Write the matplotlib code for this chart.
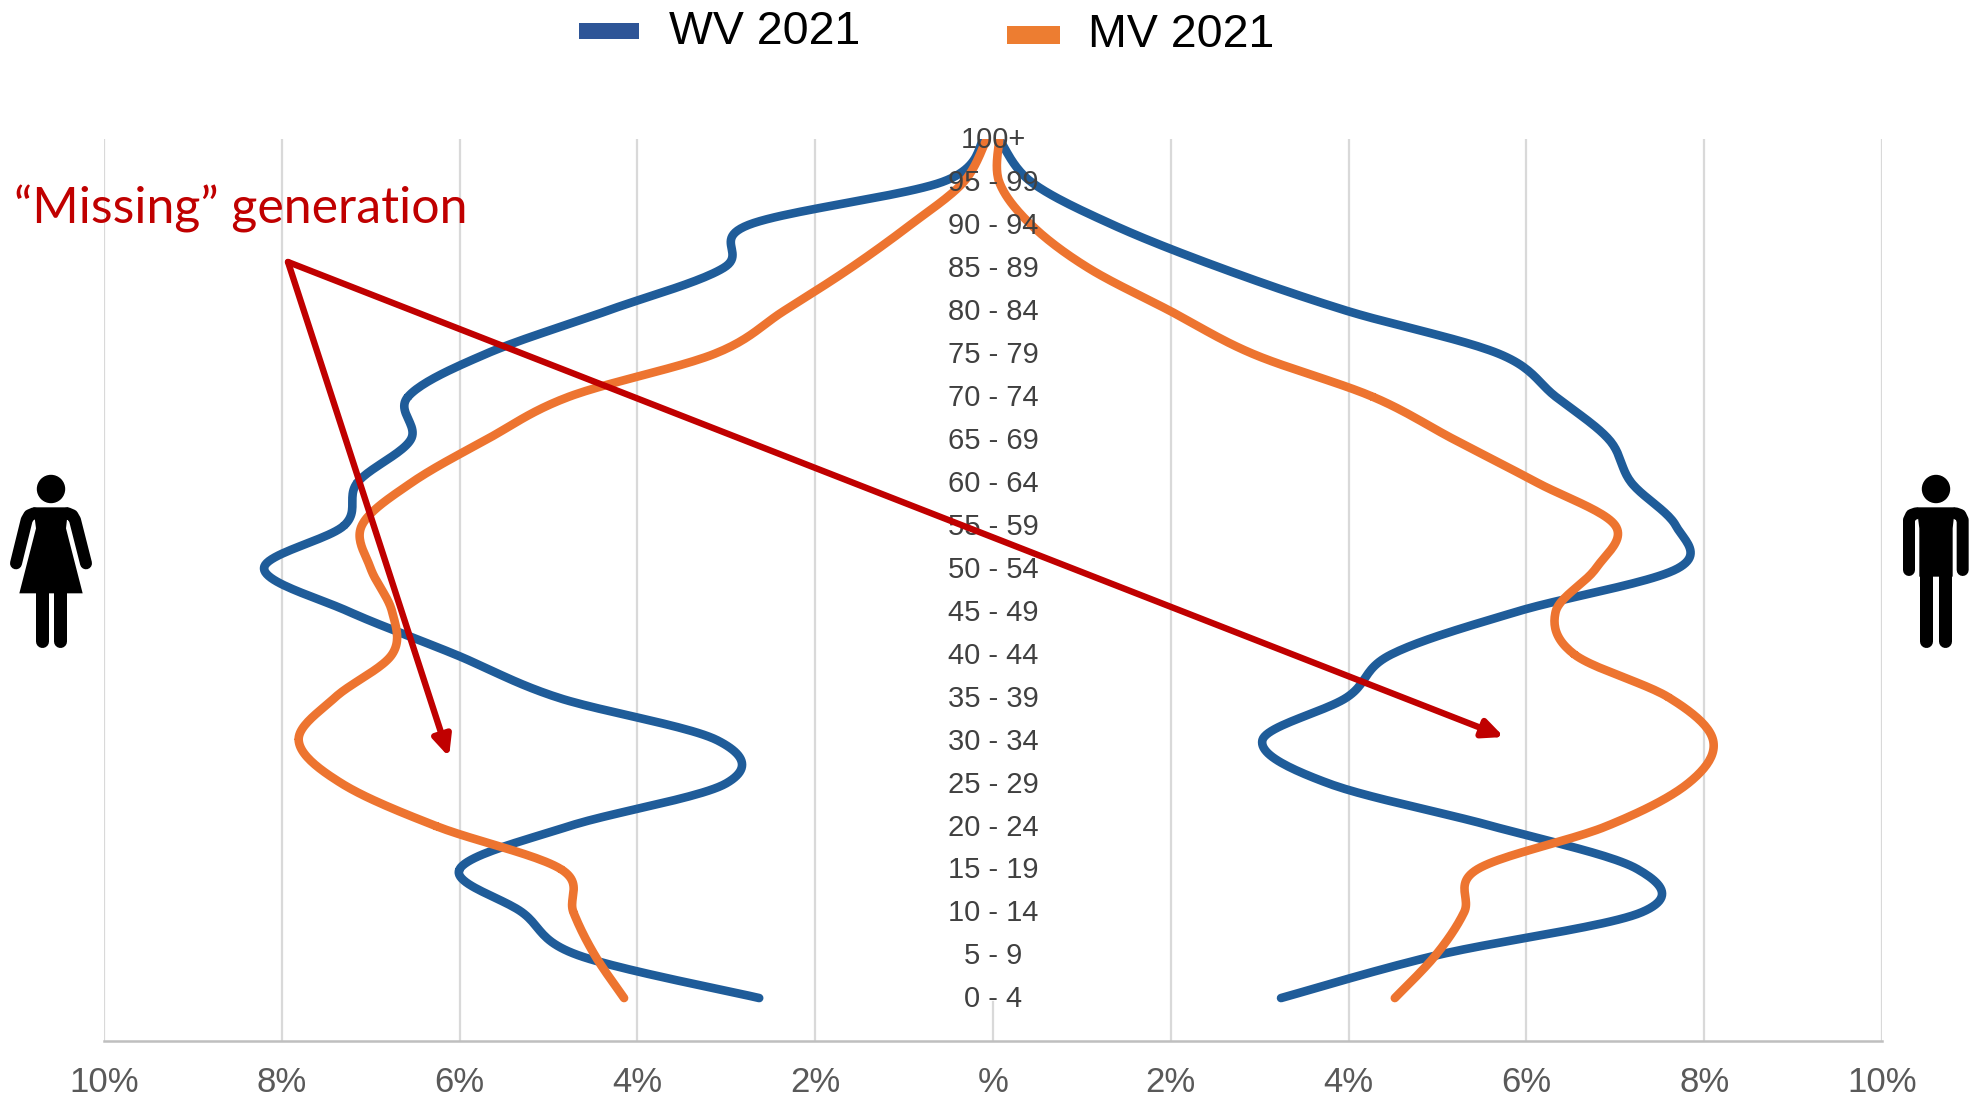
import matplotlib
matplotlib.use("Agg")
import numpy as np
import matplotlib.pyplot as plt
from matplotlib.patches import Circle, Polygon, Rectangle

BLUE = "#1F5C99"
ORANGE = "#ED7430"
RED = "#C00000"

plt.rcParams["font.family"] = ["Liberation Sans", "DejaVu Sans"]

ages = ["0 - 4", "5 - 9", "10 - 14", "15 - 19", "20 - 24", "25 - 29", "30 - 34",
        "35 - 39", "40 - 44", "45 - 49", "50 - 54", "55 - 59", "60 - 64", "65 - 69",
        "70 - 74", "75 - 79", "80 - 84", "85 - 89", "90 - 94", "95 - 99", "100+"]

women_wv = [2.63, 4.67, 5.30, 6.00, 4.77, 3.00, 3.10, 4.90, 6.05, 7.25, 8.20,
            7.30, 7.15, 6.55, 6.58, 5.70, 4.34, 3.03, 2.75, 0.57, 0.10]
women_mv = [4.15, 4.48, 4.72, 4.86, 6.26, 7.33, 7.81, 7.40, 6.76, 6.76, 7.00,
            7.10, 6.54, 5.70, 4.77, 3.13, 2.35, 1.60, 0.93, 0.33, 0.07]
men_wv = [3.24, 5.00, 7.30, 7.25, 5.62, 3.77, 3.03, 3.98, 4.48, 5.90, 7.70,
          7.68, 7.18, 6.93, 6.33, 5.69, 3.98, 2.56, 1.35, 0.43, 0.07]
men_mv = [4.52, 4.98, 5.30, 5.45, 6.90, 7.82, 8.10, 7.60, 6.54, 6.33, 6.78,
          7.00, 6.12, 5.19, 4.27, 2.92, 1.99, 1.07, 0.43, 0.07, 0.07]

x_ticks = [-10, -8, -6, -4, -2, 0, 2, 4, 6, 8, 10]
x_labels = ["10%", "8%", "6%", "4%", "2%", "%", "2%", "4%", "6%", "8%", "10%"]


def smooth(xs, ys, n=24):
    # same idea as the "smoothed line" option in a spreadsheet: catmull-rom
    xs = np.array([xs[0]] + list(xs) + [xs[-1]], dtype=float)
    ys = np.array([ys[0]] + list(ys) + [ys[-1]], dtype=float)
    out_x, out_y = [], []
    for i in range(1, len(xs) - 2):
        t = np.linspace(0, 1, n)
        for arr, out in ((xs, out_x), (ys, out_y)):
            p0, p1, p2, p3 = arr[i - 1], arr[i], arr[i + 1], arr[i + 2]
            out.extend(0.5 * (2 * p1 + (p2 - p0) * t + (2 * p0 - 5 * p1 + 4 * p2 - p3) * t ** 2
                              + (3 * p1 - p0 - 3 * p2 + p3) * t ** 3))
    return out_x, out_y


W, H = 1983, 1099
fig = plt.figure(figsize=(W / 100, H / 100), dpi=100, facecolor="white")
ax = fig.add_axes([104 / W, 1 - 1041 / H, 1778 / W, 902 / H])
ypos = np.arange(len(ages))

for vals, color, sign in ((women_wv, BLUE, -1), (men_wv, BLUE, 1),
                          (women_mv, ORANGE, -1), (men_mv, ORANGE, 1)):
    sx, sy = smooth(sign * np.array(vals), ypos)
    ax.plot(sx, sy, color=color, lw=6.2, solid_capstyle="round", zorder=3)

ax.set_xlim(-10, 10)
ax.set_ylim(-1, 20)
ax.set_xticks(x_ticks)
ax.set_xticklabels(x_labels, fontsize=25, color="#595959")
ax.set_yticks([])
ax.tick_params(axis="x", length=0, pad=18)
for x in x_ticks:
    if x != 0:
        ax.axvline(x, color="#D9D9D9", lw=1.6, zorder=1)
# the centre line only shows below the lowest age group
ax.plot([0, 0], [-1, -0.1], color="#D9D9D9", lw=1.6, zorder=1)
for side in ("top", "left", "right"):
    ax.spines[side].set_visible(False)
ax.spines["bottom"].set_color("#BFBFBF")
ax.spines["bottom"].set_linewidth(1.8)

for y, label in zip(ypos, ages):
    ax.text(0, y - 0.03, label, ha="center", va="center", fontsize=21, color="#404040", zorder=4)

# everything below is placed in pixels of the picture
over = fig.add_axes([0, 0, 1, 1], facecolor="none")
over.set_xlim(0, W)
over.set_ylim(H, 0)
over.axis("off")

over.text(14, 209, "\u201cMissing\u201d generation", fontsize=36, color=RED, family="Lato",
          ha="left", va="center")
for end in ((449, 757), (1504, 737)):
    over.annotate("", xy=end, xytext=(288, 262), zorder=5,
                  arrowprops=dict(arrowstyle="-|>,head_width=0.55,head_length=1.2", color=RED,
                                  lw=4.6, shrinkA=0, shrinkB=0))


def zoom_pts(x0, pts):
    return [(x0 + a / 3, 460 + b / 3) for a, b in pts]


def limb(x0, pts, width):
    xy = zoom_pts(x0, pts)
    over.plot([p[0] for p in xy], [p[1] for p in xy], color="black", lw=width * 0.72,
              solid_capstyle="round", solid_joinstyle="round")


# woman
over.add_patch(Circle((51, 489), 13.5, color="black"))
over.add_patch(Polygon(zoom_pts(0, [(100, 142), (205, 142), (198, 205), (248, 400), (58, 400), (108, 205)]),
                       color="black", lw=0))
limb(0, [(102, 160), (88, 166), (80, 180), (48, 310)], 12)
limb(0, [(203, 160), (217, 166), (225, 180), (258, 310)], 12)
limb(0, [(125, 395), (125, 542)], 13)
limb(0, [(180, 395), (180, 542)], 13)

# man
over.add_patch(Circle((1880 + 168 / 3, 489), 13.5, color="black"))
over.add_patch(Polygon(zoom_pts(1880, [(110, 142), (225, 142), (218, 205), (218, 350), (118, 350), (118, 205)]),
                       color="black", lw=0))
limb(1880, [(108, 160), (94, 165), (87, 180), (87, 330)], 12)
limb(1880, [(227, 160), (241, 165), (248, 180), (248, 330)], 12)
limb(1880, [(139, 340), (139, 542)], 13)
limb(1880, [(196, 340), (196, 542)], 13)

# legend
over.add_patch(Rectangle((579, 23), 60, 16, color="#2E5597", lw=0))
over.text(669, 32, "WV 2021", fontsize=33.5, color="black", ha="left", va="center")
over.add_patch(Rectangle((1007, 26), 53, 18, color="#ED7D31", lw=0))
over.text(1088, 35, "MV 2021", fontsize=33.5, color="black", ha="left", va="center")

fig.savefig("out.png", dpi=100)
